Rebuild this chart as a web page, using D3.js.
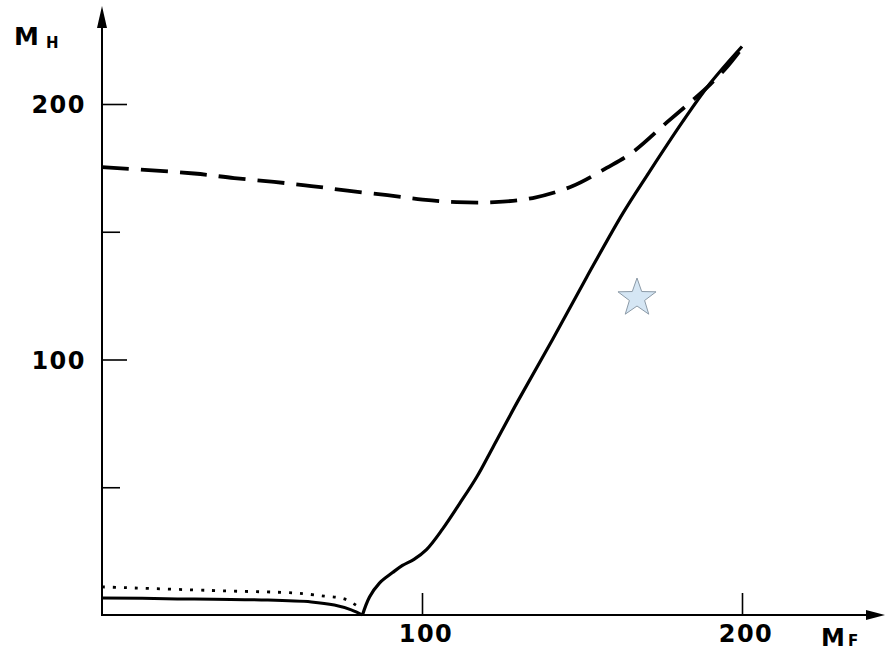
<!DOCTYPE html>
<html>
<head>
<meta charset="utf-8">
<script src="https://cdn.jsdelivr.net/npm/d3@7"></script>
<style>
  html, body { margin: 0; padding: 0; background: #fff; }
  svg { display: block; }
  text { font-family: "DejaVu Sans", "Liberation Sans", sans-serif; fill: #000; }
</style>
</head>
<body>
<svg id="chart" width="885" height="651"></svg>
<script>
// ---- data ----
const dashedF = [0, 28.8, 41.3, 53.8, 65.4, 76.7, 89.2, 100.2, 110.8, 122.7, 134.6, 147.1, 157.7, 165.9, 176.5, 184.7, 190.0, 195.3, 201];
const dashedH = [175.3, 172.8, 171.0, 169.5, 167.9, 166.1, 164.3, 162.6, 161.6, 161.6, 163.2, 167.9, 175.0, 181.2, 192.8, 201.6, 207.6, 214.5, 223.5];

const solidLowF = [0, 20, 49.8, 65.4, 72.6, 77.9, 81.4];
const solidLowH = [6.7, 6.4, 5.9, 5.1, 3.9, 2.0, 0];

const solidHighF = [81.4, 83.6, 86.7, 90.8, 93.9, 97.5, 101.4, 106.4, 111.7, 117.1, 122.1, 130, 140.8, 151.5, 162.8, 170.3, 181.5, 190.0, 200];
const solidHighH = [0, 7.0, 12.5, 16.6, 19.4, 21.8, 25.6, 33.6, 43.5, 54.0, 65.5, 83.8, 107.8, 132.3, 157.3, 172.0, 193.2, 208.0, 222.5];

const dottedF = [0, 39.1, 60.1, 69.5, 75.7, 79.8];
const dottedH = [11, 9.4, 8.6, 7.4, 6.3, 3.5];

const xMajorTicks = [100, 200];
const yMajorTicks = [100, 200];
const yMinorTicks = [50, 150];
const xTickLabels = ["100", "200"];
const yTickLabels = ["100", "200"];

// ---- scales ----
const svg = d3.select("#chart");
const x = d3.scaleLinear().domain([0, 200]).range([102, 742]);
const y = d3.scaleLinear().domain([0, 200]).range([615, 104]);

const zip = (a, b) => a.map((v, i) => [v, b[i]]);
const line = d3.line().x(d => x(d[0])).y(d => y(d[1])).curve(d3.curveCatmullRom.alpha(0.5));

// ---- axes ----
const g = svg.append("g");
g.append("line").attr("x1", x(0)).attr("x2", x(0)).attr("y1", y(0) + 1).attr("y2", 14)
  .attr("stroke", "#000").attr("stroke-width", 2);
g.append("path").attr("d", `M${x(0)},6 L${x(0) - 5},28 L${x(0) + 5},28 Z`).attr("fill", "#000");
g.append("line").attr("x1", x(0) - 1).attr("x2", 876).attr("y1", y(0)).attr("y2", y(0))
  .attr("stroke", "#000").attr("stroke-width", 2);
g.append("path").attr("d", `M885,${y(0)} L866,${y(0) - 5} L866,${y(0) + 5} Z`).attr("fill", "#000");

const yAxisMajor = d3.axisRight(y).tickValues(yMajorTicks).tickSize(25).tickFormat("");
const yAxisMinor = d3.axisRight(y).tickValues(yMinorTicks).tickSize(18).tickFormat("");
[yAxisMajor, yAxisMinor].forEach(ax => {
  const a = g.append("g").attr("transform", `translate(${x(0)},0)`).call(ax);
  a.select(".domain").remove();
  a.selectAll("line").attr("stroke", "#000").attr("stroke-width", 1.6);
});
const xAxis = d3.axisTop(x).tickValues(xMajorTicks).tickSize(22).tickFormat("");
const xa = g.append("g").attr("transform", `translate(0,${y(0)})`).call(xAxis);
xa.select(".domain").remove();
xa.selectAll("line").attr("stroke", "#000").attr("stroke-width", 1.6);

yMajorTicks.forEach((v, i) => {
  g.append("text").attr("x", 86).attr("y", y(v) + 9)
    .attr("text-anchor", "end").attr("font-size", 24).attr("font-weight", "bold")
    .attr("letter-spacing", 1.5).text(yTickLabels[i]);
});
xMajorTicks.forEach((v, i) => {
  g.append("text").attr("x", x(v) + 4).attr("y", 642)
    .attr("text-anchor", "middle").attr("font-size", 24).attr("font-weight", "bold")
    .attr("letter-spacing", 1.5).text(xTickLabels[i]);
});

const th = g.append("text").attr("x", 14).attr("y", 45).attr("font-size", 25).attr("font-weight", "bold");
th.append("tspan").text("M");
th.append("tspan").attr("dx", 7).attr("dy", 3).attr("font-size", 15).attr("font-weight", "bold").text("H");
const tf = g.append("text").attr("x", 821).attr("y", 646).attr("font-size", 24).attr("font-weight", "bold");
tf.append("tspan").text("M");
tf.append("tspan").attr("dx", 3).attr("dy", 0).attr("font-size", 15).attr("font-weight", "bold").text("F");

// ---- curves ----
const curves = svg.append("g").attr("fill", "none").attr("stroke", "#000");
curves.append("path").datum(zip(dashedF, dashedH)).attr("d", line)
  .attr("stroke-width", 3.8).attr("stroke-dasharray", "27,12");
curves.append("path").datum(zip(solidLowF, solidLowH)).attr("d", line)
  .attr("stroke-width", 3);
curves.append("path").datum(zip(solidHighF, solidHighH)).attr("d", line)
  .attr("stroke-width", 3.2);
curves.append("path").datum(zip(dottedF, dottedH)).attr("d", line)
  .attr("stroke-width", 2.8).attr("stroke-dasharray", "3,8");

// ---- star decoration ----
const starCx = 637, starCy = 298, R = 20, r = 8;
const pts = d3.range(10).map(i => {
  const ang = -Math.PI / 2 + i * Math.PI / 5;
  const rad = i % 2 === 0 ? R : r;
  return [starCx + rad * Math.cos(ang), starCy + rad * Math.sin(ang)];
});
svg.append("path").attr("d", d3.line()(pts) + "Z")
  .attr("fill", "#d5e6f4").attr("stroke", "#8c9aa7").attr("stroke-width", 1);
</script>
</body>
</html>
